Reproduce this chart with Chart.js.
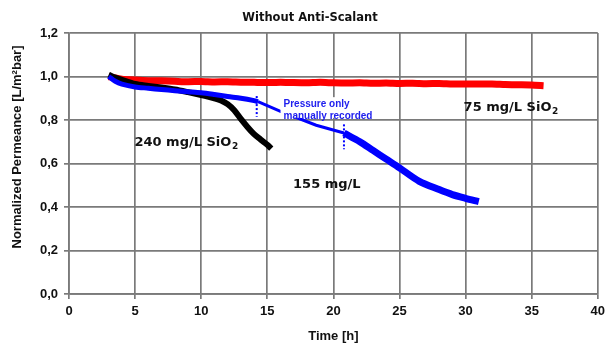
<!DOCTYPE html>
<html>
<head>
<meta charset="utf-8">
<script src="https://cdn.jsdelivr.net/npm/chart.js@4"></script>
<style>
html,body{margin:0;padding:0;background:#fff;}
#wrap{width:610px;height:346px;}
</style>
</head>
<body>
<div id="wrap"><canvas id="c" width="610" height="346"></canvas></div>
<script>
// ---- data ----
const redX   = [3, 3.5, 4, 5, 6, 7, 8, 9, 10, 11, 12, 13, 14, 15, 16, 17, 18, 19, 20, 21, 22, 23, 24, 25, 26, 27, 28, 29, 30, 31, 32, 33, 34, 35, 35.9];
const redY   = [1.0, 0.993, 0.988, 0.984, 0.981, 0.98, 0.978, 0.976, 0.977, 0.975, 0.976, 0.974, 0.973, 0.972, 0.974, 0.972, 0.971, 0.973, 0.971, 0.97, 0.971, 0.969, 0.97, 0.968, 0.969, 0.967, 0.968, 0.966, 0.966, 0.965, 0.965, 0.963, 0.962, 0.961, 0.958];

const blackX = [3, 3.5, 4, 5, 6, 7, 8, 9, 10, 10.5, 11, 11.5, 12, 12.5, 13, 13.5, 14, 14.5, 15, 15.3];
const blackY = [1.008, 0.995, 0.985, 0.966, 0.957, 0.949, 0.94, 0.928, 0.915, 0.908, 0.9, 0.89, 0.873, 0.845, 0.805, 0.768, 0.735, 0.71, 0.686, 0.668];

const blueAutoX  = [3, 3.5, 4, 5, 6, 7, 8, 9, 10, 11, 12, 13, 14, 14.3];
const blueAutoY  = [1.0, 0.978, 0.965, 0.952, 0.946, 0.94, 0.935, 0.93, 0.925, 0.917, 0.908, 0.9, 0.889, 0.884];
const blueManX   = [14.3, 16, 18.7, 20.8];
const blueManY   = [0.884, 0.84, 0.776, 0.74];
const blueLateX  = [20.8, 22, 23, 24, 25, 26.5, 28, 29, 30, 31];
const blueLateY  = [0.74, 0.70, 0.66, 0.62, 0.58, 0.518, 0.48, 0.457, 0.44, 0.425];

const markA = {x: [14.2, 14.2], y: [0.91, 0.815]};
const markB = {x: [20.8, 20.8], y: [0.78, 0.665]};

const xTicks = [0, 5, 10, 15, 20, 25, 30, 35, 40];
const yTicks = [0, 0.2, 0.4, 0.6, 0.8, 1.0, 1.2];

const labels = [
  {text: '240 mg/L SiO', sub: '2', x: 4.95, y: 0.695},
  {text: '155 mg/L', sub: '', x: 16.95, y: 0.502},
  {text: '75 mg/L SiO', sub: '2', x: 29.85, y: 0.857}
];
const noteLines = ['Pressure only', 'manually recorded'];
const noteBox = {x0: 16.0, x1: 23.5, y0: 0.905, y1: 0.81};
const chartTitle = 'Without Anti-Scalant';
const yTitle = 'Normalized Permeance [L/m²bar]';

function pts(xs, ys){ return xs.map((x,i)=>({x:x, y:ys[i]})); }

const FONT = '"DejaVu Sans", sans-serif';
const AFONT = 'Arial, "Liberation Sans", sans-serif';
const GRID = '#7a7a7a';

const annot = {
  id: 'annot',
  afterDatasetsDraw(chart){
    const ctx = chart.ctx, xs = chart.scales.x, ys = chart.scales.y;
    ctx.save();
    const bx0 = xs.getPixelForValue(noteBox.x0), bx1 = xs.getPixelForValue(noteBox.x1);
    const by0 = ys.getPixelForValue(noteBox.y0), by1 = ys.getPixelForValue(noteBox.y1);
    ctx.fillStyle = '#fff';
    ctx.fillRect(bx0, by0, bx1 - bx0, by1 - by0);
    ctx.fillStyle = '#2020ee';
    ctx.font = 'bold 10px ' + AFONT;
    ctx.textAlign = 'left';
    ctx.textBaseline = 'middle';
    ctx.fillText(noteLines[0], bx0 + 3, by0 + 7);
    ctx.fillText(noteLines[1], bx0 + 3, by0 + 19);
    ctx.fillStyle = '#111';
    labels.forEach(l => {
      const px = xs.getPixelForValue(l.x), py = ys.getPixelForValue(l.y);
      ctx.font = 'bold 13px ' + FONT;
      ctx.fillText(l.text, px, py);
      if (l.sub) {
        const w = ctx.measureText(l.text).width;
        ctx.font = 'bold 9px ' + FONT;
        ctx.fillText(l.sub, px + w + 0.5, py + 4);
      }
    });
    ctx.restore();
  },
  afterDraw(chart){
    const ctx = chart.ctx;
    ctx.save();
    ctx.fillStyle = '#111';
    ctx.textAlign = 'center';
    ctx.textBaseline = 'middle';
    ctx.font = 'bold 11.5px ' + FONT;
    ctx.fillText(chartTitle, 310, 18);
    ctx.translate(17, 147);
    ctx.rotate(-Math.PI / 2);
    ctx.font = 'bold 13px ' + AFONT;
    ctx.fillText(yTitle, 0, 0);
    ctx.restore();
  }
};

new Chart(document.getElementById('c'), {
  type: 'scatter',
  data: {
    datasets: [
      {data: pts(blueAutoX, blueAutoY), borderColor: '#0000ff', borderWidth: 5, showLine: true, pointRadius: 0, tension: 0.3},
      {data: pts(blueManX, blueManY), borderColor: '#0000ff', borderWidth: 3, showLine: true, pointRadius: 0},
      {data: pts(blueLateX, blueLateY), borderColor: '#0000ff', borderWidth: 7, showLine: true, pointRadius: 0, tension: 0.3},
      {data: pts(blackX, blackY), borderColor: '#000000', borderWidth: 6, showLine: true, pointRadius: 0, tension: 0.3},
      {data: pts(redX, redY), borderColor: '#ff0000', borderWidth: 7, showLine: true, pointRadius: 0, tension: 0.2},
      {data: pts(markA.x, markA.y), borderColor: '#0000ff', borderWidth: 2, borderDash: [2, 2], showLine: true, pointRadius: 0},
      {data: pts(markB.x, markB.y), borderColor: '#0000ff', borderWidth: 2, borderDash: [2, 2], showLine: true, pointRadius: 0}
    ]
  },
  options: {
    responsive: false,
    animation: false,
    layout: {padding: {left: 0, right: 8, top: 33, bottom: 0}},
    plugins: {
      legend: {display: false},
      tooltip: {enabled: false},
      title: {display: false}
    },
    scales: {
      x: {
        type: 'linear', min: 0, max: 40,
        afterFit(s){ s.height = 52; },
        afterBuildTicks(s){ s.ticks = xTicks.map(v => ({value: v})); },
        ticks: {color: '#111', font: {family: AFONT, size: 13, weight: 'bold'}, padding: 5, maxRotation: 0},
        grid: {color: GRID, lineWidth: 1.7, tickLength: 5, tickColor: GRID},
        border: {color: GRID, width: 1.7},
        title: {display: true, text: 'Time [h]', color: '#111', font: {family: AFONT, size: 13, weight: 'bold'}, padding: {top: 4, bottom: 2}}
      },
      y: {
        type: 'linear', min: 0, max: 1.2,
        afterFit(s){ s.width = 69; },
        afterBuildTicks(s){ s.ticks = yTicks.map(v => ({value: v})); },
        ticks: {color: '#111', font: {family: AFONT, size: 13, weight: 'bold'}, padding: 6,
          callback: v => v.toFixed(1).replace('.', ',')},
        grid: {color: GRID, lineWidth: 1.7, tickLength: 5, tickColor: GRID},
        border: {color: GRID, width: 1.7},
        title: {display: false}
      }
    }
  },
  plugins: [annot]
});
</script>
</body>
</html>
